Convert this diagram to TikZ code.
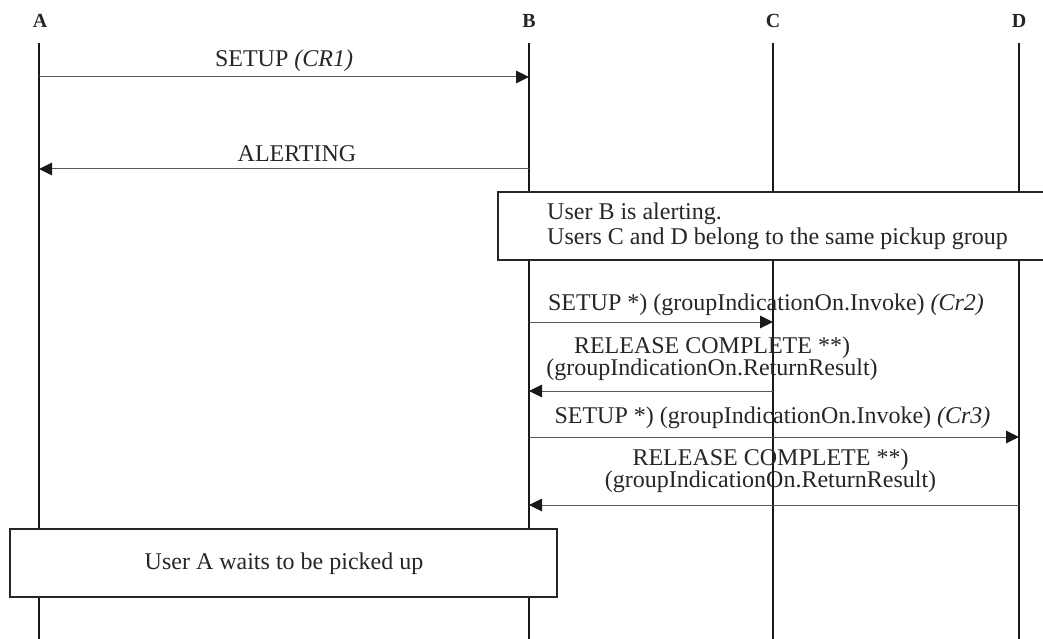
\documentclass[tikz,border=0pt]{standalone}
\usepackage{fontspec}
\setmainfont{Liberation Serif}
\usetikzlibrary{arrows.meta}
\begin{document}
\begin{tikzpicture}[x=1pt,y=-1pt,
  life/.style={draw=black!90, line width=1.2pt},
  msg/.style={draw=black!65, line width=1pt, -{Triangle[length=13pt,width=12.5pt,color=black!90,fill=black!90]}},
  lbl/.style={font=\fontsize{24}{22}\selectfont, inner sep=0pt, anchor=base, text=black!85},
  head/.style={font=\fontsize{20}{22}\selectfont\bfseries, inner sep=0pt, anchor=base, text=black!85},
  notebox/.style={draw=black!85, line width=1.1pt, fill=white, inner sep=0pt}]
\useasboundingbox (0,0) rectangle (1043,639);
% headers
\node[head] (hA) at (40,28) {A};
\node[head] (hB) at (529,28) {B};
\node[head] (hC) at (773,28) {C};
\node[head] (hD) at (1019,28) {D};
% lifelines
\coordinate (At) at (39,43);  \coordinate (Ab) at (39,640);
\coordinate (Bt) at (529,43); \coordinate (Bb) at (529,640);
\coordinate (Ct) at (773,43); \coordinate (Cb) at (773,640);
\coordinate (Dt) at (1019,43);\coordinate (Db) at (1019,640);
\draw[life] (At) -- (Ab);
\draw[life] (Bt) -- (Bb);
\draw[life] (Ct) -- (Cb);
\draw[life] (Dt) -- (Db);
% message 1
\coordinate (a1) at (39,77);  \coordinate (b1) at (529,77);
\draw[msg] (a1) -- (b1);
\node[lbl] (l1) at (284,67) {SETUP \textit{(CR1)}};
% message 2
\coordinate (b2) at (529,169); \coordinate (a2) at (39,169);
\draw[msg] (b2) -- (a2);
\node[lbl] (l2) at (297,161) {ALERTING};
% note box B
\node[notebox, minimum width=552pt, minimum height=68pt] (nb) at (774,226) {};
\node[lbl, anchor=base west] (nbt1) at (547,219) {User B is alerting.};
\node[lbl, anchor=base west] (nbt2) at (547,244) {Users C and D belong to the same pickup group};
% message 3
\coordinate (b3) at (529,322); \coordinate (c3) at (773,322);
\draw[msg] (b3) -- (c3);
\node[lbl] (l3) at (766,310) {SETUP *) (groupIndicationOn.Invoke) \textit{(Cr2)}};
% message 4
\coordinate (c4) at (773,391); \coordinate (b4) at (529,391);
\draw[msg] (c4) -- (b4);
\node[lbl] (l4a) at (712,353) {RELEASE COMPLETE **)};
\node[lbl] (l4b) at (712,375) {(groupIndicationOn.ReturnResult)};
% message 5
\coordinate (b5) at (529,437); \coordinate (d5) at (1019,437);
\draw[msg] (b5) -- (d5);
\node[lbl] (l5) at (772.5,423) {SETUP *) (groupIndicationOn.Invoke) \textit{(Cr3)}};
% message 6
\coordinate (d6) at (1019,505); \coordinate (b6) at (529,505);
\draw[msg] (d6) -- (b6);
\node[lbl] (l6a) at (770.5,465) {RELEASE COMPLETE **)};
\node[lbl] (l6b) at (770.5,487) {(groupIndicationOn.ReturnResult)};
% note box A
\node[notebox, minimum width=547pt, minimum height=68pt] (na) at (283.5,563) {};
\node[lbl] (nat) at (284,569) {User A waits to be picked up};
\end{tikzpicture}
\end{document}
